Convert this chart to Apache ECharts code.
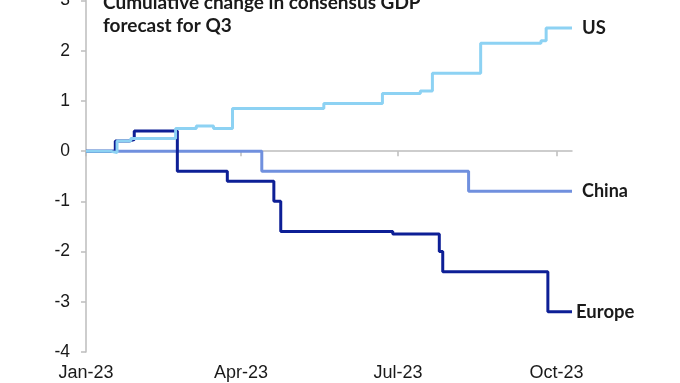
<!DOCTYPE html>
<html>
<head>
<meta charset="utf-8">
<script src="https://cdn.jsdelivr.net/npm/echarts@6/dist/echarts.min.js"></script>
<style>
  html, body { margin: 0; padding: 0; background: #fff; }
  #chart { width: 680px; height: 383px; }
</style>
</head>
<body>
<div id="chart"></div>
<script>
// ---- data ----
const startDate = '2023-01-01';
const endDate = '2023-10-10';
const tickMonths = ['01', '04', '07', '10'];
const monthNames = { '01': 'Jan', '04': 'Apr', '07': 'Jul', '10': 'Oct' };
const yTicks = [-4, -3, -2, -1, 0, 1, 2, 3];

const usDates    = ['2023-01-01','2023-01-15','2023-01-19','2023-01-27','2023-02-22','2023-03-06','2023-03-16','2023-03-27','2023-05-19','2023-06-22','2023-07-14','2023-07-21','2023-08-18','2023-09-22','2023-09-25','2023-10-10'];
const usValues   = [0, -0.03, 0.2, 0.25, 0.45, 0.5, 0.45, 0.85, 0.95, 1.15, 1.2, 1.55, 2.15, 2.2, 2.45, 2.45];

const chinaDates  = ['2023-01-01','2023-04-13','2023-08-11','2023-10-10'];
const chinaValues = [0, -0.4, -0.8, -0.8];

const europeDates  = ['2023-01-01','2023-01-18','2023-01-26','2023-01-29','2023-02-23','2023-03-24','2023-04-20','2023-04-24','2023-06-28','2023-07-25','2023-07-27','2023-09-26','2023-10-10'];
const europeValues = [0, 0.2, 0.23, 0.4, -0.4, -0.6, -1.0, -1.6, -1.65, -2.0, -2.4, -3.2, -3.2];

// ---- build categories (one per day) ----
function buildDays(a, b) {
  const out = [];
  const d = new Date(a + 'T00:00:00Z');
  const e = new Date(b + 'T00:00:00Z');
  while (d <= e) {
    out.push(d.toISOString().slice(0, 10));
    d.setUTCDate(d.getUTCDate() + 1);
  }
  return out;
}
const days = buildDays(startDate, endDate);
const isQuarterStart = (idx, val) => val.slice(8) === '01' && tickMonths.indexOf(val.slice(5, 7)) >= 0;
const pairs = (ds, vs) => ds.map((d, i) => [d, vs[i]]);

const axisGray = '#bdbdbd';
const textColor = '#1a1a1a';
const labelFont = 'Lato, "Open Sans", sans-serif';

const chart = echarts.init(document.getElementById('chart'), null, { renderer: 'canvas' });
chart.setOption({
  animation: false,
  backgroundColor: '#ffffff',
  title: {
    text: 'Cumulative change in consensus GDP\nforecast for Q3',
    left: 103,
    top: -9,
    padding: 0,
    textStyle: {
      fontFamily: labelFont,
      fontWeight: 'bold',
      fontSize: 19,
      lineHeight: 23.5,
      color: textColor
    }
  },
  grid: { left: 86, right: 108, top: 0.5, bottom: 31, containLabel: false, outerBoundsMode: 'none' },
  xAxis: [
    {
      type: 'category',
      data: days,
      boundaryGap: false,
      position: 'bottom',
      axisLine: { onZero: true, lineStyle: { color: axisGray, width: 1.5 } },
      axisTick: { show: true, interval: isQuarterStart, length: 5, lineStyle: { color: axisGray, width: 1.5 } },
      axisLabel: { show: false },
      splitLine: { show: false }
    },
    {
      type: 'category',
      data: days,
      boundaryGap: false,
      position: 'bottom',
      axisLine: { show: false, onZero: false },
      axisTick: { show: false },
      axisLabel: {
        show: true,
        interval: isQuarterStart,
        margin: 12,
        fontFamily: '"Liberation Sans", Arial, sans-serif',
        fontSize: 18,
        color: textColor,
        formatter: v => monthNames[v.slice(5, 7)] + '-' + v.slice(2, 4)
      },
      splitLine: { show: false }
    }
  ],
  yAxis: {
    type: 'value',
    min: yTicks[0],
    max: yTicks[yTicks.length - 1],
    interval: 1,
    axisLine: { show: true, lineStyle: { color: axisGray, width: 1.5 } },
    axisTick: { show: true, length: 5, lineStyle: { color: axisGray, width: 1.5 } },
    axisLabel: {
      margin: 16,
      fontFamily: '"Liberation Sans", Arial, sans-serif',
      fontSize: 17.5,
      color: textColor
    },
    splitLine: { show: false }
  },
  series: [
    {
      name: 'China',
      type: 'line',
      xAxisIndex: 0,
      step: 'end',
      data: pairs(chinaDates, chinaValues),
      showSymbol: false,
      lineStyle: { color: '#7090de', width: 3 },
      itemStyle: { color: '#7090de' },
      endLabel: {
        show: true, formatter: '{a}', distance: 10,
        fontFamily: labelFont, fontWeight: 'bold', fontSize: 18, color: textColor
      }
    },
    {
      name: 'Europe',
      type: 'line',
      xAxisIndex: 0,
      step: 'end',
      data: pairs(europeDates, europeValues),
      showSymbol: false,
      lineStyle: { color: '#0d1f96', width: 3 },
      itemStyle: { color: '#0d1f96' },
      endLabel: {
        show: true, formatter: '{a}', distance: 4,
        fontFamily: labelFont, fontWeight: 'bold', fontSize: 18.5, color: textColor
      }
    },
    {
      name: 'US',
      type: 'line',
      xAxisIndex: 0,
      step: 'end',
      data: pairs(usDates, usValues),
      showSymbol: false,
      lineStyle: { color: '#8dd2f3', width: 3 },
      itemStyle: { color: '#8dd2f3' },
      endLabel: {
        show: true, formatter: '{a}', distance: 10,
        fontFamily: labelFont, fontWeight: 'bold', fontSize: 18.5, color: textColor
      }
    }
  ]
});
</script>
</body>
</html>
